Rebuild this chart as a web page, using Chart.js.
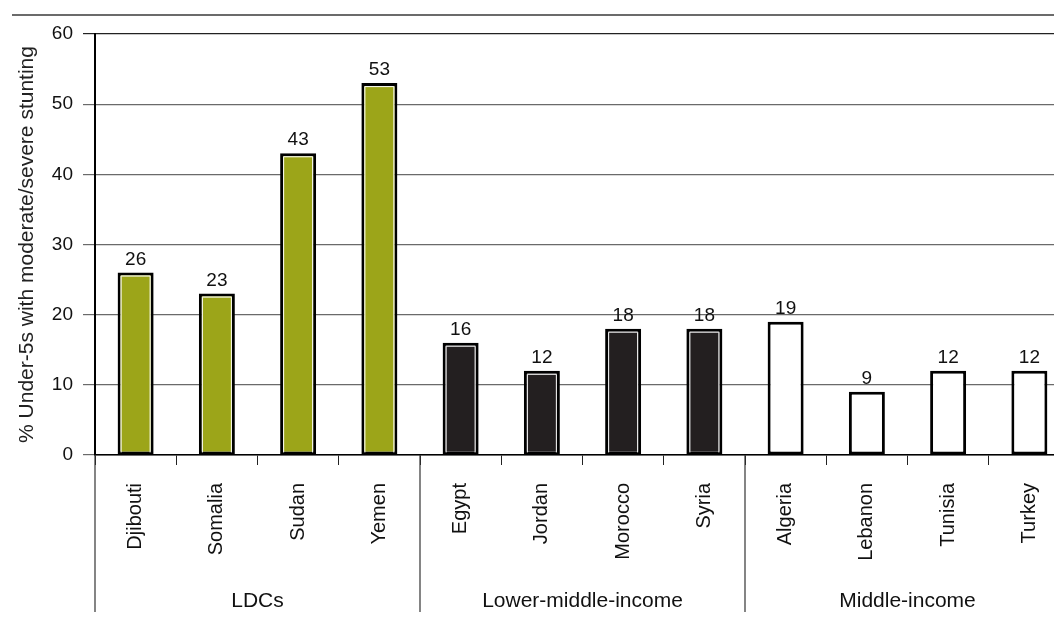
<!DOCTYPE html>
<html>
<head>
<meta charset="utf-8">
<script src="https://cdn.jsdelivr.net/npm/chart.js@4/dist/chart.umd.min.js"></script>
<style>
  html, body { margin: 0; padding: 0; background: #fff; overflow: hidden; }
  #stunting { display: block; }
</style>
</head>
<body>
<canvas id="stunting" width="1080" height="623"></canvas>
<script>
// Countries, grouped by income level
const countries = ['Djibouti', 'Somalia', 'Sudan', 'Yemen',
                   'Egypt', 'Jordan', 'Morocco', 'Syria',
                   'Algeria', 'Lebanon', 'Tunisia', 'Turkey'];
const stunting = [26, 23, 43, 53, 16, 12, 18, 18, 19, 9, 12, 12];
const groupNames = ['LDCs', 'Lower-middle-income', 'Middle-income'];
const groupSizes = [4, 4, 4];
const groupColors = ['#9ca519', '#231f20', '#ffffff'];
const yTicks = [0, 10, 20, 30, 40, 50, 60];

const FONT = "'Liberation Sans', Arial, Helvetica, sans-serif";

// colour of each bar comes from its group
const barColors = [];
groupSizes.forEach((n, g) => { for (let k = 0; k < n; k++) barColors.push(groupColors[g]); });

const extras = {
    id: 'extras',
    afterDatasetsDraw(chart) {
        const ctx = chart.ctx;
        const meta = chart.getDatasetMeta(0);
        ctx.save();
        meta.data.forEach((bar, i) => {
            const { x, y, base, width } = bar.getProps(['x', 'y', 'base', 'width'], true);
            // thin white highlight just inside the black outline
            if (barColors[i] !== '#ffffff') {
                const l = x - width / 2 + 3.5, r = x + width / 2 - 3.5, t = y + 3.5;
                ctx.strokeStyle = '#ffffff';
                ctx.lineWidth = 1;
                ctx.beginPath();
                ctx.moveTo(l, base - 2);
                ctx.lineTo(l, t);
                ctx.lineTo(r, t);
                ctx.lineTo(r, base - 2);
                ctx.stroke();
            }
            ctx.fillStyle = '#111';
            ctx.font = '19px ' + FONT;
            ctx.textAlign = 'center';
            ctx.textBaseline = 'alphabetic';
            ctx.fillText(String(stunting[i]), x, y - 8);
        });
        ctx.restore();
    },
    afterDraw(chart) {
        const ctx = chart.ctx;
        const xs = chart.scales.x;
        const step = xs.getPixelForTick(1) - xs.getPixelForTick(0);
        const bottom = chart.chartArea.bottom;
        ctx.save();
        // rule across the top
        ctx.strokeStyle = '#3a3a3a';
        ctx.lineWidth = 1.5;
        ctx.beginPath();
        ctx.moveTo(12, 15);
        ctx.lineTo(chart.width, 15);
        ctx.stroke();
        // group separators and group names
        let start = 0;
        groupSizes.forEach((n, g) => {
            const left = xs.getPixelForTick(start) - step / 2;
            const right = xs.getPixelForTick(start + n - 1) + step / 2;
            ctx.strokeStyle = '#333';
            ctx.lineWidth = 1.2;
            ctx.beginPath();
            ctx.moveTo(left, bottom);
            ctx.lineTo(left, 612);
            ctx.stroke();
            ctx.fillStyle = '#111';
            ctx.font = '21px ' + FONT;
            ctx.textAlign = 'center';
            ctx.textBaseline = 'middle';
            ctx.fillText(groupNames[g], (left + right) / 2, 601);
            start += n;
        });
        ctx.restore();
    }
};

new Chart(document.getElementById('stunting'), {
    type: 'bar',
    data: {
        labels: countries,
        datasets: [{
            data: stunting,
            backgroundColor: barColors,
            borderColor: '#000',
            borderWidth: 3,
            borderSkipped: false,
            barPercentage: 0.443,
            categoryPercentage: 1
        }]
    },
    options: {
        responsive: false,
        animation: false,
        events: [],
        layout: { padding: { top: 34, right: 10, left: 0, bottom: 0 } },
        plugins: {
            legend: { display: false },
            tooltip: { enabled: false }
        },
        scales: {
            x: {
                afterFit: s => { s.height = 168; },
                border: { color: '#000', width: 1.5 },
                grid: {
                    drawOnChartArea: false,
                    drawTicks: true,
                    tickLength: 10,
                    color: '#222'
                },
                ticks: {
                    minRotation: 90,
                    maxRotation: 90,
                    padding: 18,
                    color: '#111',
                    font: { family: FONT, size: 20 }
                }
            },
            y: {
                min: 0,
                max: 60,
                afterFit: s => { s.width = 95; },
                afterBuildTicks: s => { s.ticks = yTicks.map(v => ({ value: v })); },
                border: { color: '#000', width: 2 },
                grid: {
                    color: ctx => (ctx.tick && ctx.tick.value === 60 ? '#222' : '#6a6a6a'),
                    tickLength: 12,
                    lineWidth: 1.2
                },
                ticks: {
                    padding: 10,
                    color: '#111',
                    font: { family: FONT, size: 19 }
                },
                title: {
                    display: true,
                    text: '% Under-5s with moderate/severe stunting',
                    color: '#222',
                    padding: { top: 15, bottom: 0 },
                    font: { family: FONT, size: 21 }
                }
            }
        }
    },
    plugins: [extras]
});
</script>
</body>
</html>
